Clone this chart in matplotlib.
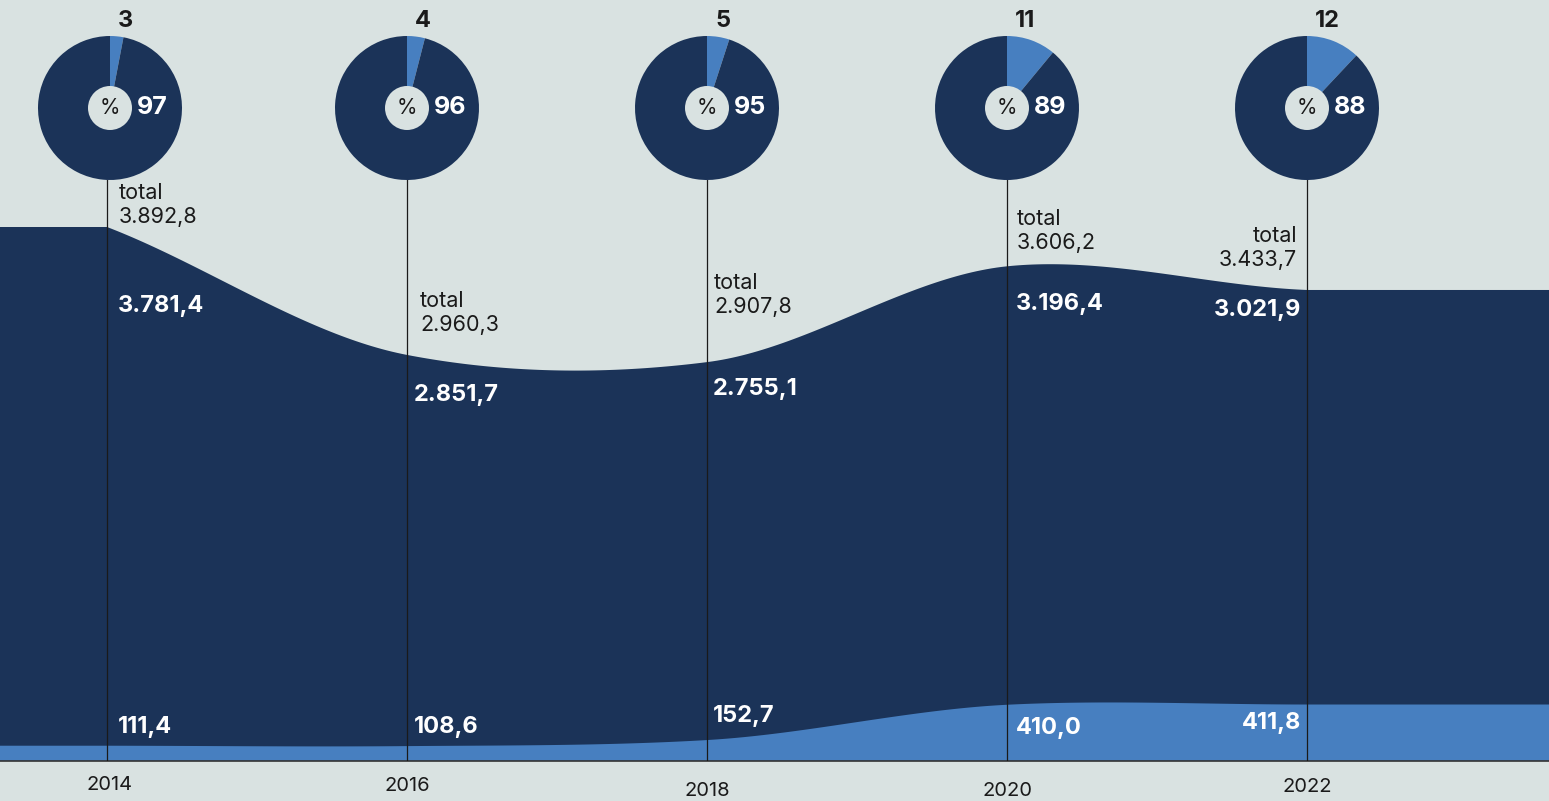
import matplotlib
matplotlib.use("Agg")
import matplotlib.pyplot as plt
from matplotlib.patches import Circle
import numpy as np

plt.rcParams['font.family'] = ['Inter', 'DejaVu Sans']

# data
years = [2014, 2016, 2018, 2020, 2022]
light_vals = [111.4, 108.6, 152.7, 410.0, 411.8]
dark_vals = [3781.4, 2851.7, 2755.1, 3196.4, 3021.9]
totals = [3892.8, 2960.3, 2907.8, 3606.2, 3433.7]
pct_light = [3, 4, 5, 11, 12]
pct_dark = [97, 96, 95, 89, 88]

BG = '#d9e2e1'
NAVY = '#1b3358'
BLUE = '#477fc0'
INK = '#1a1a1a'

# label offsets in pixels (dx, dy) relative to the point on the curve
total_off = [(12, 22), (13, 42), (7, 67), (10, 35), (-10, 42)]
dark_off = [(11, -79), (7, -40), (6, -27), (9, -38), (-6, -20)]
light_off = [(11, 19), (7, 19), (6, 24), (9, -23), (-6, -18)]
year_off = [(3, -24), (0, -25), (0, -30), (0, -30), (0, -26)]
pie_dx = [3, 0, 0, 0, 0]


def fmt(v):
    s = f"{v:,.1f}"
    return s.replace(",", "X").replace(".", ",").replace("X", ".")


def smooth(xs, ys, n=60, tension=0.85):
    # cubic hermite, catmull-rom style tangents
    xs = np.asarray(xs, float)
    ys = np.asarray(ys, float)
    m = np.zeros_like(ys)
    m[1:-1] = tension * (ys[2:] - ys[:-2]) / (xs[2:] - xs[:-2])
    m[0] = 0.9 * (ys[1] - ys[0]) / (xs[1] - xs[0])
    m[-1] = 0.5 * (ys[-1] - ys[-2]) / (xs[-1] - xs[-2])
    ox, oy = [], []
    for i in range(len(xs) - 1):
        h = xs[i + 1] - xs[i]
        t = np.linspace(0, 1, n)
        h00 = 2 * t**3 - 3 * t**2 + 1
        h10 = t**3 - 2 * t**2 + t
        h01 = -2 * t**3 + 3 * t**2
        h11 = t**3 - t**2
        ox.append(xs[i] + t * h)
        oy.append(h00 * ys[i] + h10 * h * m[i] + h01 * ys[i + 1] + h11 * h * m[i + 1])
    return np.concatenate(ox), np.concatenate(oy)


W, H = 1549, 801
base_px = 761
px_per_year = 150
px_per_unit = 534 / totals[0]
x0 = years[0] - 107 / px_per_year
x1 = years[0] + (W - 107) / px_per_year

fig = plt.figure(figsize=(W / 100, H / 100), dpi=100, facecolor=BG)
ax = fig.add_axes([0, (H - base_px) / H, 1, base_px / H])
ax.set_facecolor(BG)
ax.set_xlim(x0, x1)
ax.set_ylim(0, base_px / px_per_unit)
ax.axis('off')

sx, st = smooth(years, totals)
_, sl = smooth(years, light_vals)
fx = np.concatenate([[x0], sx, [x1]])
ft = np.concatenate([[totals[0]], st, [totals[-1]]])
fl = np.concatenate([[light_vals[0]], sl, [light_vals[-1]]])

ax.fill_between(fx, 0, ft, color=NAVY, lw=0)
ax.fill_between(fx, 0, fl, color=BLUE, lw=0)
ax.axhline(0, color='#333333', lw=1.2, clip_on=False)

line_top = (base_px - 180) / base_px
for i, yr in enumerate(years):
    ax.axvline(yr, ymin=0, ymax=line_top, color=INK, lw=0.9)

    ha = 'right' if i == len(years) - 1 else 'left'
    ax.annotate(f"total\n{fmt(totals[i])}", (yr, totals[i]), xytext=total_off[i],
                textcoords='offset pixels', ha=ha, va='center', fontsize=15.5,
                color=INK, linespacing=1.25, multialignment=ha)
    ax.annotate(fmt(dark_vals[i]), (yr, totals[i]), xytext=dark_off[i],
                textcoords='offset pixels', ha=ha, va='center', fontsize=17,
                fontweight='bold', color='white')
    ax.annotate(fmt(light_vals[i]), (yr, light_vals[i]), xytext=light_off[i],
                textcoords='offset pixels', ha=ha, va='center', fontsize=17,
                fontweight='bold', color='white')
    ax.annotate(str(yr), (yr, 0), xytext=year_off[i], textcoords='offset pixels',
                ha='center', va='center', fontsize=14.5, color=INK,
                annotation_clip=False)

# pies
R = 72
cy = 108
for i, yr in enumerate(years):
    cx = (yr - x0) * px_per_year + pie_dx[i]
    pa = fig.add_axes([(cx - R) / W, (H - cy - R) / H, 2 * R / W, 2 * R / H])
    pa.pie([pct_light[i], pct_dark[i]], colors=[BLUE, NAVY], startangle=90,
           counterclock=False, radius=1, wedgeprops=dict(lw=0))
    pa.add_patch(Circle((0, 0), 22 / R, color=BG, lw=0))
    pa.set_xlim(-1, 1)
    pa.set_ylim(-1, 1)
    pa.axis('off')
    pa.text(0, 0, '%', ha='center', va='center', fontsize=15, color=INK)
    pa.text(27 / R, 0, str(pct_dark[i]), ha='left', va='center', fontsize=18,
            fontweight='bold', color='white')
    pa.text(8 / R, 87 / R, str(pct_light[i]), ha='left', va='center', fontsize=17,
            fontweight='bold', color=INK, clip_on=False)

fig.savefig('out.png', dpi=100, facecolor=BG)
